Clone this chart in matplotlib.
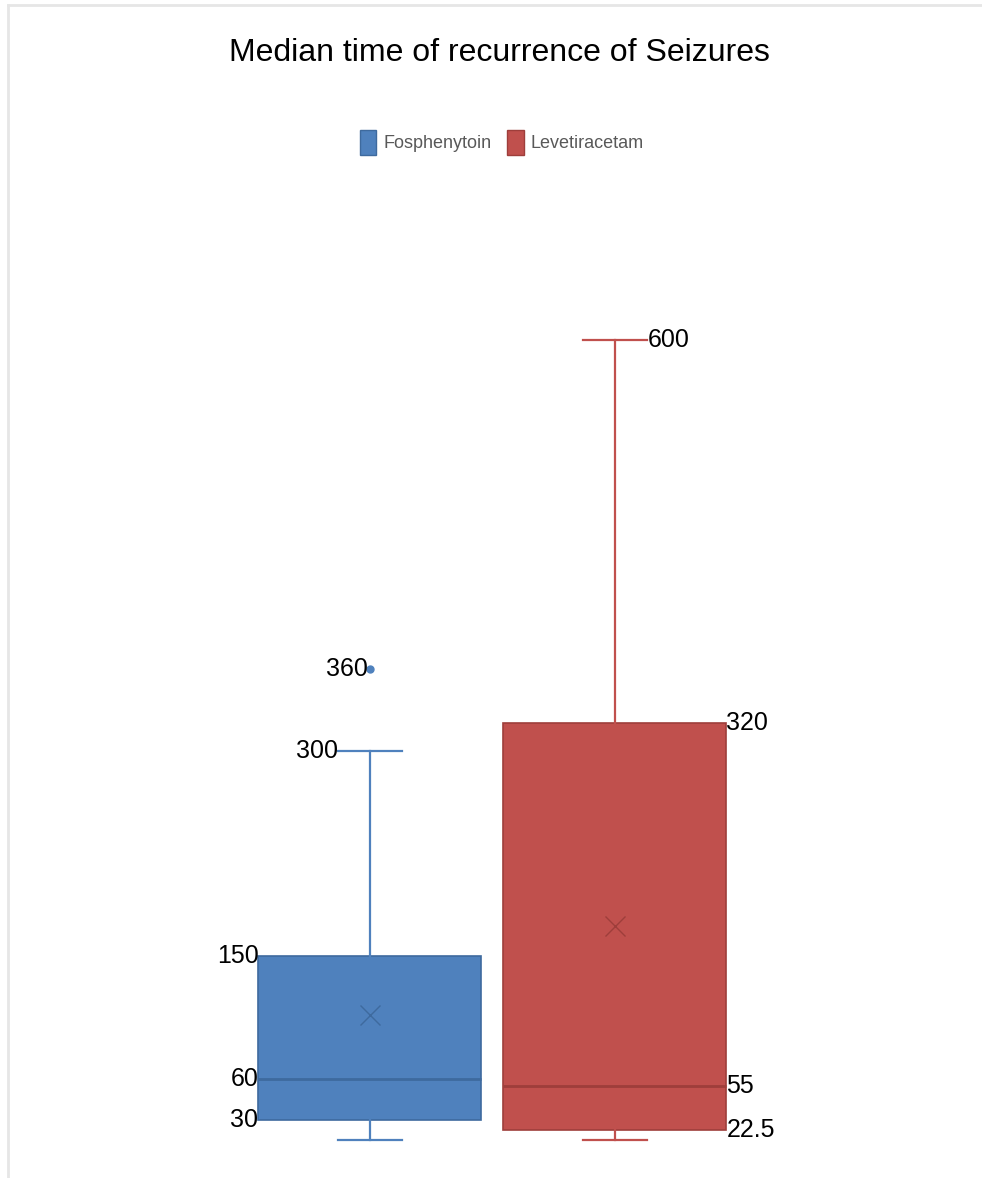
import matplotlib
matplotlib.use("Agg")
import matplotlib.pyplot as plt
from matplotlib import font_manager
from matplotlib.patches import Patch
from matplotlib.lines import Line2D

# data
groups = ['Fosphenytoin', 'Levetiracetam']
q1 = [30, 22.5]
medians = [60, 55]
q3 = [150, 320]
whis_lo = [15, 15]
whis_hi = [300, 600]
means = [107, 172]
outliers = [[360], []]

colors = ['#4F81BD', '#C0504D']
dark = ['#3E6A9E', '#9E3E3B']

names = {f.name for f in font_manager.fontManager.ttflist}
narrow = 'Liberation Sans Narrow' if 'Liberation Sans Narrow' in names else 'Liberation Sans'

fig = plt.figure(figsize=(9.82, 11.78), dpi=100)
ax = fig.add_axes([0.252, 0.01443, 0.499, 0.7547])

stats = []
for i in range(len(groups)):
    stats.append(dict(label=groups[i], q1=q1[i], med=medians[i], q3=q3[i],
                      whislo=whis_lo[i], whishi=whis_hi[i], mean=means[i],
                      fliers=outliers[i]))

pos = [1, 2]
bp = ax.bxp(stats, positions=pos, widths=0.91, patch_artist=True, showmeans=True,
            capwidths=0.265, manage_ticks=False)

for i in range(len(groups)):
    bp['boxes'][i].set(facecolor=colors[i], edgecolor=dark[i], linewidth=1.2)
    bp['medians'][i].set(color=dark[i], linewidth=2)
    for ln in bp['whiskers'][2 * i:2 * i + 2] + bp['caps'][2 * i:2 * i + 2]:
        ln.set(color=colors[i], linewidth=1.6)
    bp['means'][i].set(marker='x', markersize=14, markeredgecolor=dark[i],
                       markeredgewidth=1.0, markerfacecolor='none')
    bp['fliers'][i].set(marker='o', markersize=5, markerfacecolor=colors[i],
                        markeredgecolor=colors[i])

lab = dict(fontsize=18, family=narrow, color='black', va='center')
# Fosphenytoin labels on the left side
for v in [q3[0], medians[0], q1[0]]:
    ax.text(pos[0] - 0.455, v, f'{v:g}', ha='right', **lab)
ax.text(pos[0] - 0.1325, whis_hi[0], f'{whis_hi[0]:g}', ha='right', **lab)
for v in outliers[0]:
    ax.text(pos[0] - 0.01, v, f'{v:g}', ha='right', **lab)
# Levetiracetam labels on the right side
for v in [q3[1], medians[1], q1[1]]:
    ax.text(pos[1] + 0.455, v, f'{v:g}', ha='left', **lab)
ax.text(pos[1] + 0.1325, whis_hi[1], f'{whis_hi[1]:g}', ha='left', **lab)

ax.set_xlim(0.5, 2.5)
ax.set_ylim(0, 650)
ax.axis('off')

fig.text(0.509, 0.955, 'Median time of recurrence of Seizures', ha='center', va='center',
         fontsize=23, family=narrow, color='black')

handles = [Patch(facecolor=c, edgecolor=d, linewidth=1) for c, d in zip(colors, dark)]
leg = fig.legend(handles, groups, loc='center', bbox_to_anchor=(0.511, 0.879), ncol=2,
                 frameon=False, handlelength=0.9, handleheight=1.8, handletextpad=0.4,
                 columnspacing=0.9, prop=dict(family=narrow, size=13))
for t in leg.get_texts():
    t.set_color('#595959')

# light frame around the picture
fig.add_artist(Line2D([0.008, 1.0], [0.9955, 0.9955], transform=fig.transFigure,
                      color='#E6E6E6', linewidth=2))
fig.add_artist(Line2D([0.008, 0.008], [0.0, 0.9955], transform=fig.transFigure,
                      color='#E6E6E6', linewidth=2))

fig.savefig('out.png', dpi=100, facecolor='white')
